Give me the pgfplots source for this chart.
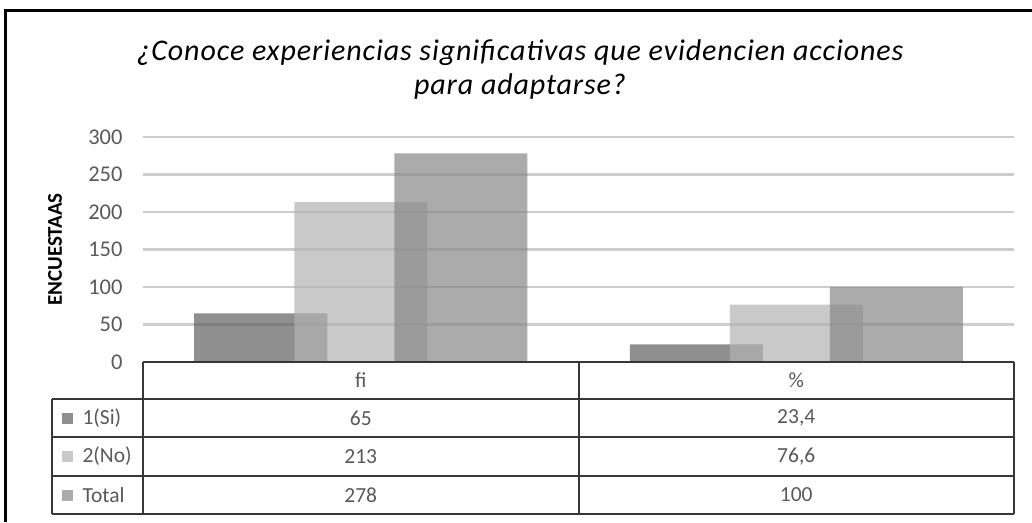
\documentclass[border=0pt]{standalone}
\usepackage{pgfplots}
\pgfplotsset{compat=1.18}
\usepackage{fontspec}
\setmainfont{Carlito}
\newfontfamily\titlefont[LetterSpace=3]{Carlito}
\definecolor{siC}{RGB}{95,95,95}
\definecolor{noC}{RGB}{178,178,178}
\definecolor{totC}{RGB}{136,136,136}
\definecolor{siL}{RGB}{143,143,143}
\definecolor{noL}{RGB}{201,201,201}
\definecolor{totL}{RGB}{172,172,172}
\definecolor{gridC}{RGB}{205,205,205}
\definecolor{tickC}{RGB}{89,89,89}
\definecolor{tabC}{RGB}{55,55,55}
\begin{document}
\begin{tikzpicture}[x=1pt,y=1pt]
\useasboundingbox (-143,-160) rectangle (889,362);
\begin{axis}[
  at={(0,0)}, anchor=south west,
  scale only axis, width=871pt, height=225pt,
  xmin=-0.5, xmax=1.5, ymin=0, ymax=300,
  xtick=\empty,
  ytick={0,50,...,300},
  ymajorgrids,
  grid style={color=gridC, line width=2.2pt},
  axis line style={draw=none},
  major tick length=0pt,
  /pgf/number format/assume math mode=true,
  yticklabel style={font=\fontsize{22.5}{26}\selectfont, color=tickC, xshift=-17pt},
  ylabel={\bfseries ENCUESTAAS},
  ylabel style={font=\fontsize{21}{24}\selectfont, at={(axis description cs:-0.101,0.5)}, anchor=center},
  clip=false,
]
\addplot[ybar, bar width=133pt, bar shift=-100pt, fill=siC, fill opacity=0.7, draw=none] coordinates {(0,65) (1,23.4)};
\addplot[ybar, bar width=133pt, bar shift=0pt, fill=noC, fill opacity=0.7, draw=none] coordinates {(0,213) (1,76.6)};
\addplot[ybar, bar width=133pt, bar shift=100pt, fill=totC, fill opacity=0.7, draw=none] coordinates {(0,278) (1,100)};
\end{axis}
% outer border
\draw[black, line width=3pt] (-137,-160) -- (-137,351) -- (889,351);
% title
\node[font=\fontsize{30}{34}\selectfont\titlefont\itshape, anchor=base] at (377,301) {¿Conoce experiencias significativas que evidencien acciones};
\node[font=\fontsize{30}{34}\selectfont\titlefont\itshape, anchor=base] at (377,267) {para adaptarse?};
% data table
\begin{scope}[line width=2pt, draw=tabC]
\draw (0,0) -- (871,0);
\draw (-91,-37) -- (871,-37);
\draw (-91,-75) -- (871,-75);
\draw (-91,-114) -- (871,-114);
\draw (-91,-152) -- (871,-152);
\draw (-91,-37) -- (-91,-152);
\draw (0,0) -- (0,-152);
\draw (435.5,0) -- (435.5,-152);
\draw (871,0) -- (871,-152);
\end{scope}
\begin{scope}[every node/.style={font=\fontsize{21.5}{25}\selectfont, text=tickC}]
\node at (217.75,-18.5) {fi};
\node at (653.25,-18.5) {\%};
\node at (217.75,-56) {65};
\node at (653.25,-56) {23,4};
\node at (217.75,-94.5) {213};
\node at (653.25,-94.5) {76,6};
\node at (217.75,-133) {278};
\node at (653.25,-133) {100};
\node[anchor=west] at (-64,-56) {1(Si)};
\node[anchor=west] at (-64,-94.5) {2(No)};
\node[anchor=west] at (-64,-133) {Total};
\end{scope}
\fill[siL] (-81,-61.5) rectangle (-70,-50.5);
\fill[noL] (-81,-100) rectangle (-70,-89);
\fill[totL] (-81,-138.5) rectangle (-70,-127.5);
\end{tikzpicture}
\end{document}
